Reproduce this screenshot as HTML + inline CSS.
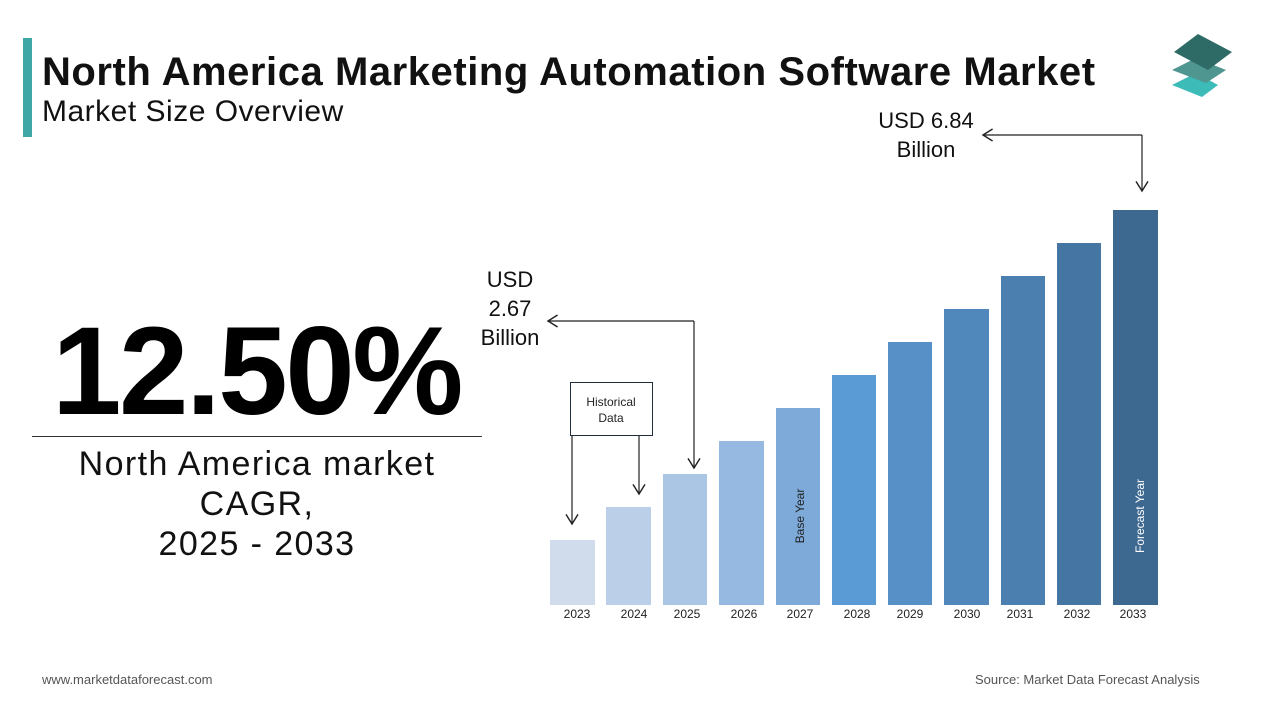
<!DOCTYPE html>
<html><head><style>
body{margin:0;width:1280px;height:720px;background:#fff;position:relative;overflow:hidden;font-family:"Liberation Sans",sans-serif;}
.a{position:absolute;}
</style></head><body>
<div class="a" style="left:23px;top:38px;width:9px;height:99px;background:#3fa7a6"></div>
<div class="a" style="left:42px;top:50px;font-size:40px;font-weight:bold;color:#111;letter-spacing:0.55px">North America Marketing Automation Software Market</div>
<div class="a" style="left:42px;top:95px;font-size:30px;color:#111;letter-spacing:0.5px">Market Size Overview</div>
<div class="a" style="left:52px;top:300px;font-size:125px;font-weight:bold;color:#000;letter-spacing:-2.5px">12.50%</div>
<div class="a" style="left:32px;top:436px;width:450px;height:1px;background:#333"></div>
<div class="a" style="left:2px;top:444px;width:510px;text-align:center;font-size:34px;line-height:40px;color:#111;letter-spacing:1.4px">North America market<br>CAGR,<br>2025 - 2033</div>
<div class="a" style="left:42px;top:672px;font-size:13px;color:#555">www.marketdataforecast.com</div>
<div class="a" style="left:975px;top:672px;font-size:13px;color:#555">Source: Market Data Forecast Analysis</div>
<svg class="a" style="left:0;top:0" width="1280" height="720">
<defs><marker id="m" markerWidth="12" markerHeight="12" refX="10" refY="6" orient="auto"><path d="M2,1 L10,6 L2,11" fill="none" stroke="#222" stroke-width="1.2"/></marker></defs>
<g>
<polygon points="1196,73 1218,85 1202,97 1172,85" fill="#3dbbb8"/>
<polygon points="1196,58 1226,70 1206,83 1172,70" fill="#4f9590"/>
<polygon points="1198,34 1232,52 1208,70 1174,52" fill="#2e6a66"/>
</g>
<g font-family="Liberation Sans" font-size="12" fill="#222" text-anchor="middle">
<rect x="550" y="540" width="45" height="65" fill="#d0dcec"/><text x="577" y="618">2023</text>
<rect x="606" y="507" width="45" height="98" fill="#bccfe8"/><text x="634" y="618">2024</text>
<rect x="663" y="474" width="44" height="131" fill="#abc5e4"/><text x="687" y="618">2025</text>
<rect x="719" y="441" width="45" height="164" fill="#95b9e0"/><text x="744" y="618">2026</text>
<rect x="776" y="408" width="44" height="197" fill="#7eaad9"/><text x="800" y="618">2027</text>
<rect x="832" y="375" width="44" height="230" fill="#5b9bd5"/><text x="857" y="618">2028</text>
<rect x="888" y="342" width="44" height="263" fill="#5690c6"/><text x="910" y="618">2029</text>
<rect x="944" y="309" width="45" height="296" fill="#5088bc"/><text x="967" y="618">2030</text>
<rect x="1001" y="276" width="44" height="329" fill="#4a7fb0"/><text x="1020" y="618">2031</text>
<rect x="1057" y="243" width="44" height="362" fill="#4576a3"/><text x="1077" y="618">2032</text>
<rect x="1113" y="210" width="45" height="395" fill="#3d6890"/><text x="1133" y="618">2033</text>
<text transform="translate(804,516) rotate(-90)" fill="#222">Base Year</text>
<text transform="translate(1144,516) rotate(-90)" fill="#fff">Forecast Year</text>
</g>
<rect x="570.5" y="382.5" width="82" height="53" fill="#fff" stroke="#1f2d3d"/>
<text x="611" y="406" font-family="Liberation Sans" font-size="12" text-anchor="middle" fill="#222">Historical</text>
<text x="611" y="422" font-family="Liberation Sans" font-size="12" text-anchor="middle" fill="#222">Data</text>
<g stroke="#222" stroke-width="1.2" fill="none">
<path d="M572,436 V524" marker-end="url(#m)"/>
<path d="M639,436 V494" marker-end="url(#m)"/>
<path d="M694,321 V468" marker-end="url(#m)"/>
<path d="M694,321 H548" marker-end="url(#m)"/>
<path d="M1142,135 V191" marker-end="url(#m)"/>
<path d="M1142,135 H983" marker-end="url(#m)"/>
</g>
<g font-family="Liberation Sans" font-size="22" fill="#111" text-anchor="middle">
<text x="510" y="287">USD</text><text x="510" y="316">2.67</text><text x="510" y="345">Billion</text>
<text x="926" y="128">USD 6.84</text><text x="926" y="157">Billion</text>
</g>
</svg>
</body></html>
